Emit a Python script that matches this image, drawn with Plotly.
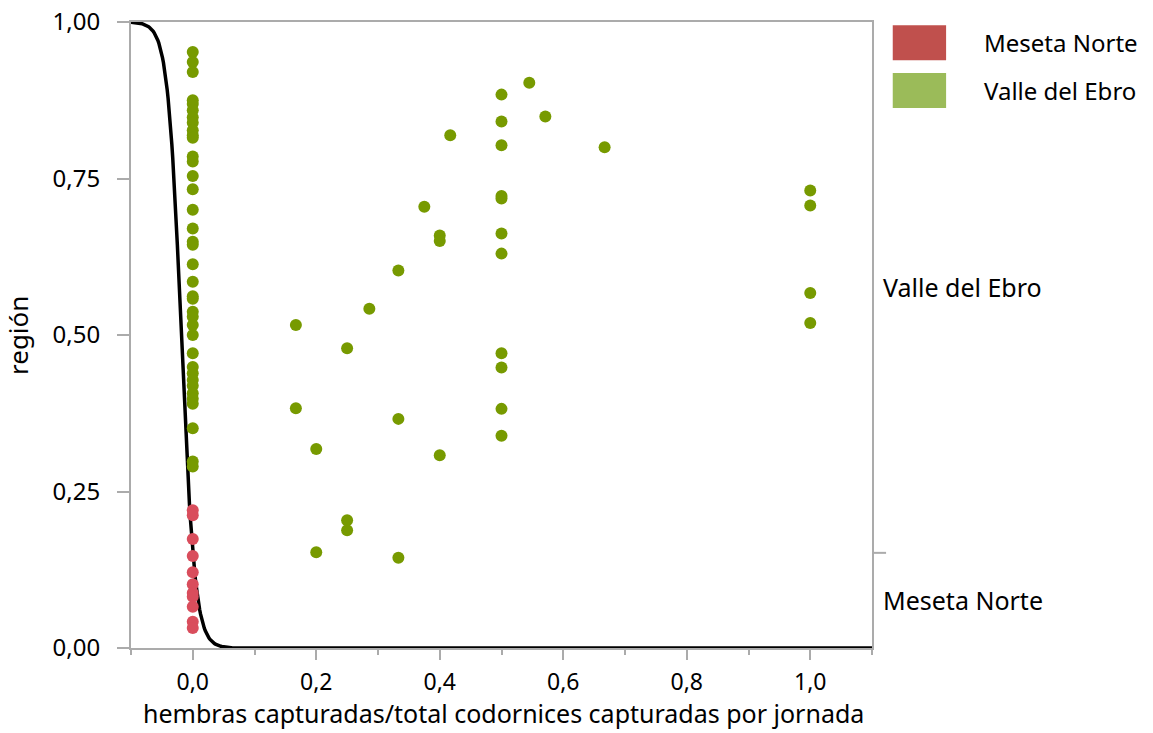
import numpy as np
import plotly.graph_objects as go

# ---------------- data ----------------
# Meseta Norte (all at x = 0)
meseta_x = [0.0] * 11
meseta_y = [0.220, 0.212, 0.174, 0.147, 0.121, 0.102, 0.088, 0.082, 0.066, 0.042, 0.032]

# Valle del Ebro
valle_x0_y = [0.952, 0.936, 0.920, 0.875, 0.869, 0.859, 0.848, 0.839, 0.827, 0.819, 0.815,
              0.785, 0.777, 0.754, 0.733, 0.700, 0.670, 0.649, 0.644, 0.613, 0.585, 0.562,
              0.558, 0.537, 0.529, 0.516, 0.500, 0.471, 0.449, 0.439, 0.428, 0.419, 0.407,
              0.398, 0.390, 0.351, 0.298, 0.290]
valle_other_x = [0.167, 0.167, 0.2, 0.2, 0.25, 0.25, 0.25, 0.286, 0.333, 0.333, 0.333,
                 0.375, 0.4, 0.4, 0.4, 0.417,
                 0.5, 0.5, 0.5, 0.5, 0.5, 0.5, 0.5, 0.5, 0.5, 0.5, 0.5,
                 0.545, 0.571, 0.667, 1.0, 1.0, 1.0, 1.0]
valle_other_y = [0.516, 0.383, 0.318, 0.153, 0.479, 0.204, 0.188, 0.542, 0.603, 0.366, 0.144,
                 0.705, 0.659, 0.650, 0.308, 0.819,
                 0.884, 0.841, 0.803, 0.722, 0.718, 0.662, 0.630, 0.471, 0.448, 0.382, 0.339,
                 0.903, 0.849, 0.800, 0.731, 0.707, 0.567, 0.519]
valle_x = [0.0] * len(valle_x0_y) + valle_other_x
valle_y = valle_x0_y + valle_other_y

# logistic fit parameters (P = 1 / (1 + exp(-(b0 + b1 * x))))
fit_b0 = -1.70
fit_b1 = -92.0

categories = ["Meseta Norte", "Valle del Ebro"]
x_ticks = [0.0, 0.2, 0.4, 0.6, 0.8, 1.0]
x_minor = [-0.1, 0.1, 0.3, 0.5, 0.7, 0.9, 1.1]
y_ticks = [0.0, 0.25, 0.5, 0.75, 1.0]
meseta_share = 0.152  # proportion of Meseta Norte in the sample (right axis split)

x_title = "hembras capturadas/total codornices capturadas por jornada"
y_title = "región"

# ---------------- styling ----------------
FONT = "Noto Sans"
AX_COLOR = "#ababab"
RED_PT = "#d94d5c"
GREEN_PT = "#779a00"
RED_LEG = "#c0504d"
GREEN_LEG = "#9bbb59"

xc = np.linspace(-0.1, 1.1, 800)
yc = 1.0 / (1.0 + np.exp(-(fit_b0 + fit_b1 * xc)))

fig = go.Figure()
fig.add_trace(go.Scatter(x=xc, y=yc, mode="lines",
                         line=dict(color="black", width=3.5), showlegend=False))
fig.add_trace(go.Scatter(x=valle_x, y=valle_y, mode="markers", name=categories[1],
                         marker=dict(color=GREEN_PT, size=12), showlegend=False))
fig.add_trace(go.Scatter(x=meseta_x, y=meseta_y, mode="markers", name=categories[0],
                         marker=dict(color=RED_PT, size=12), showlegend=False))

fig.update_layout(
    width=1153, height=733,
    margin=dict(l=131, r=281, t=22, b=85, autoexpand=False),
    plot_bgcolor="white", paper_bgcolor="white",
    separators=", ",
    font=dict(family=FONT, size=22, color="black"),
    xaxis=dict(range=[-0.1, 1.1], tickvals=x_ticks, tickformat=".1f",
               automargin=False, ticklabeloverflow="allow",
               tickfont=dict(size=23), ticklabelstandoff=2,
               showline=True, linecolor=AX_COLOR, linewidth=2, mirror=True,
               ticks="outside", ticklen=10, tickwidth=2, tickcolor=AX_COLOR,
               minor=dict(tickvals=x_minor,
                          ticks="outside", ticklen=5, tickwidth=2, tickcolor=AX_COLOR),
               showgrid=False, zeroline=False),
    yaxis=dict(range=[0, 1], tickvals=y_ticks, tickformat=".2f",
               automargin=False, ticklabeloverflow="allow",
               tickfont=dict(size=24), ticklabelstandoff=12,
               showline=True, linecolor=AX_COLOR, linewidth=2, mirror=True,
               ticks="outside", ticklen=12, tickwidth=2, tickcolor=AX_COLOR,
               showgrid=False, zeroline=False),
)

# axis titles
fig.add_annotation(xref="paper", yref="paper", x=0.5027, y=-0.1335, text=x_title,
                   showarrow=False, xanchor="center", yanchor="bottom",
                   font=dict(size=25))
fig.add_annotation(xref="paper", yref="paper", x=-0.1525, y=0.5, text=y_title,
                   showarrow=False, textangle=-90, xanchor="center", yanchor="middle",
                   font=dict(size=26))

# right-hand category axis
fig.add_shape(type="line", xref="paper", yref="y", x0=1.0, x1=1.019,
              y0=meseta_share, y1=meseta_share, line=dict(color=AX_COLOR, width=2))
fig.add_annotation(xref="paper", yref="y", x=1.012, y=(1 + meseta_share) / 2,
                   text=categories[1], showarrow=False, xanchor="left",
                   font=dict(size=25))
fig.add_annotation(xref="paper", yref="y", x=1.012, y=meseta_share / 2,
                   text=categories[0], showarrow=False, xanchor="left",
                   font=dict(size=25))

# legend drawn as swatches + text
for i, (name, col) in enumerate(zip(categories, [RED_LEG, GREEN_LEG])):
    top = 0.995 - i * 0.0765
    fig.add_shape(type="rect", xref="paper", yref="paper",
                  x0=1.028, x1=1.100, y0=top - 0.056, y1=top,
                  line=dict(width=0), fillcolor=col)
    fig.add_annotation(xref="paper", yref="paper", x=1.148, y=top - 0.028,
                       text=name, showarrow=False, xanchor="left", yanchor="middle",
                       font=dict(size=24))

fig.write_html("out.html", config={"displayModeBar": False},
               post_script="document.body.style.margin='0';"
                           "document.body.style.overflow='hidden';")
